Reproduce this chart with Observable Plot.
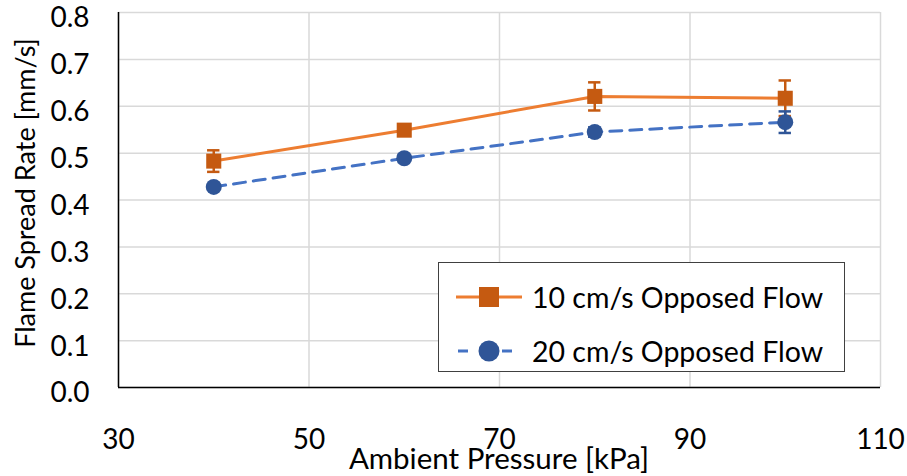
<!DOCTYPE html>
<html>
<head>
<meta charset="utf-8">
<script src="https://cdn.jsdelivr.net/npm/d3@7"></script>
<script src="https://cdn.jsdelivr.net/npm/@observablehq/plot@0.6"></script>
<style>
  html, body { margin: 0; padding: 0; background: #fff; }
  #wrap { position: relative; width: 907px; height: 476px; font-family: Lato, "Noto Sans", sans-serif; }
  #legend { position: absolute; left: 438px; top: 262px; width: 407px; height: 110px; border: 1.5px solid #404040; background: #fff; box-sizing: border-box; }
  .item { position: absolute; left: 0; height: 40px; display: flex; align-items: center; font-size: 28.5px; color: #000; white-space: nowrap; }
  .item svg { margin-left: 17px; margin-right: 10px; }
</style>
</head>
<body>
<div id="wrap"></div>
<script>
const pressure = [40, 60, 80, 100];
const series = ["10 cm/s Opposed Flow", "20 cm/s Opposed Flow"];
const rate10 = [0.483, 0.549, 0.621, 0.617];
const err10 = [0.023, 0.008, 0.030, 0.038];
const rate20 = [0.428, 0.489, 0.545, 0.566];
const err20 = [0.006, 0.008, 0.010, 0.023];
const xTicks = [30, 50, 70, 90, 110];
const yTicks = [0, 0.1, 0.2, 0.3, 0.4, 0.5, 0.6, 0.7, 0.8];

const lineColor = ["#ED7D31", "#4472C4"];
const markColor = ["#C55A11", "#2F5597"];

const d10 = pressure.map((p, i) => ({x: p, y: rate10[i], e: err10[i]}));
const d20 = pressure.map((p, i) => ({x: p, y: rate20[i], e: err20[i]}));
const cap = 0.65;

function errMarks(data, color) {
  return [
    Plot.ruleX(data, {x: "x", y1: d => d.y - d.e, y2: d => d.y + d.e, stroke: color, strokeWidth: 2.5}),
    Plot.ruleY(data, {y: d => d.y + d.e, x1: d => d.x - cap, x2: d => d.x + cap, stroke: color, strokeWidth: 2.5}),
    Plot.ruleY(data, {y: d => d.y - d.e, x1: d => d.x - cap, x2: d => d.x + cap, stroke: color, strokeWidth: 2.5})
  ];
}

const chart = Plot.plot({
  width: 907,
  height: 476,
  marginLeft: 118,
  marginRight: 27,
  marginTop: 12,
  marginBottom: 89,
  style: {fontFamily: "Lato, 'Noto Sans', sans-serif", background: "#fff", color: "#000"},
  x: {domain: [30, 110]},
  y: {domain: [0, 0.8]},
  marks: [
    Plot.gridX(xTicks, {stroke: "#d9d9d9", strokeOpacity: 1, strokeWidth: 1.5}),
    Plot.gridY(yTicks, {stroke: "#d9d9d9", strokeOpacity: 1, strokeWidth: 1.5}),
    Plot.axisX(xTicks, {tickSize: 0, tickPadding: 42, fontSize: 28, label: null, tickFormat: d => String(d)}),
    Plot.axisY(yTicks, {tickSize: 0, tickPadding: 29, fontSize: 28, label: null, tickFormat: d3.format(".1f"), dy: 6}),
    Plot.ruleY([0], {stroke: "#000", strokeWidth: 1.5}),
    Plot.ruleX([30], {stroke: "#000", strokeWidth: 1.5}),
    Plot.line(d10, {x: "x", y: "y", stroke: lineColor[0], strokeWidth: 3}),
    Plot.line(d20, {x: "x", y: "y", stroke: lineColor[1], strokeWidth: 3, strokeDasharray: "12,8"}),
    ...errMarks(d10, markColor[0]),
    ...errMarks(d20, markColor[1]),
    Plot.dot(d10, {x: "x", y: "y", symbol: "square", r: 8.5, fill: markColor[0], stroke: "none"}),
    Plot.dot(d20, {x: "x", y: "y", symbol: "circle", r: 8, fill: markColor[1], stroke: "none"})
  ]
});

const svg = d3.select(chart);
svg.append("text")
  .attr("x", 499).attr("y", 469)
  .attr("text-anchor", "middle")
  .attr("font-size", 29.5)
  .attr("font-family", "Lato, sans-serif")
  .attr("fill", "#000")
  .text("Ambient Pressure [kPa]");
svg.append("text")
  .attr("transform", "translate(35,193) rotate(-90)")
  .attr("text-anchor", "middle")
  .attr("font-size", 27)
  .attr("font-family", "Lato, sans-serif")
  .attr("fill", "#000")
  .text("Flame Spread Rate [mm/s]");

const wrap = document.getElementById("wrap");
wrap.appendChild(chart);

const legend = document.createElement("div");
legend.id = "legend";
const ys = [14, 68];
series.forEach((name, i) => {
  const item = document.createElement("div");
  item.className = "item";
  item.style.top = ys[i] + "px";
  const sym = i === 0
    ? `<svg width="66" height="24"><line x1="0" y1="12" x2="66" y2="12" stroke="${lineColor[0]}" stroke-width="3"/><rect x="23" y="2" width="20" height="20" fill="${markColor[0]}"/></svg>`
    : `<svg width="66" height="24"><line x1="0" y1="12" x2="66" y2="12" stroke="${lineColor[1]}" stroke-width="3" stroke-dasharray="10,12" stroke-dashoffset="-2"/><circle cx="33" cy="12" r="10.5" fill="${markColor[1]}"/></svg>`;
  item.innerHTML = sym + `<span>${name}</span>`;
  legend.appendChild(item);
});
wrap.appendChild(legend);
</script>
</body>
</html>
